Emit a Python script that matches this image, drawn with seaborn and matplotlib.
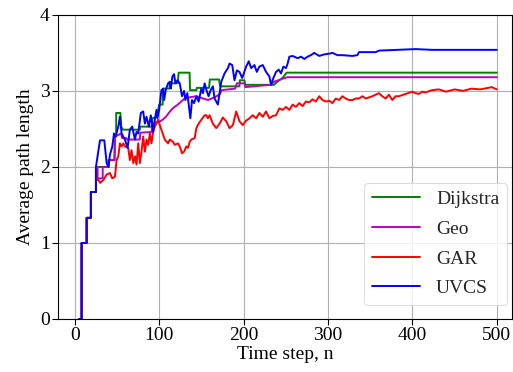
import matplotlib
matplotlib.use("Agg")
import matplotlib.pyplot as plt
import numpy as np
import pandas as pd
import seaborn as sns

# shared start: staircase from 0 up to 2
start_n = [5, 8, 8, 14, 14, 19, 19, 25, 25]
start_y = [0, 0, 1, 1, 1.33, 1.33, 1.67, 1.67, 2.0]

dijkstra_n = [40, 40, 47, 47.5, 49, 49, 54, 55, 57, 77, 77, 91, 92, 97, 100, 104,
              104.6, 112, 112.5, 122, 123, 136, 136.5, 144, 144.5, 159, 160, 171,
              172, 195, 195.5, 201, 202, 236, 240, 246, 251, 500]
dijkstra_y = [2.0, 2.09, 2.09, 2.4, 2.4, 2.71, 2.71, 2.53, 2.49, 2.49, 2.53, 2.53,
              2.64, 2.66, 2.82, 2.82, 3.03, 3.03, 3.1, 3.1, 3.24, 3.24, 3.01, 3.01,
              3.04, 3.04, 3.15, 3.15, 3.06, 3.06, 3.14, 3.14, 3.08, 3.08, 3.12, 3.17,
              3.24, 3.24]

geo_n = [27, 27, 33, 33, 40, 40, 47, 47.5, 55, 56, 61, 62, 77, 77.5, 91, 92, 98,
         101, 104, 108, 112, 116, 122, 126, 130, 138, 144, 152, 158, 168, 172, 174,
         190, 192, 201, 202, 232, 236, 246, 252, 500]
geo_y = [2.0, 1.85, 1.85, 2.0, 2.0, 2.09, 2.09, 2.4, 2.44, 2.38, 2.38, 2.36, 2.36,
         2.45, 2.46, 2.57, 2.59, 2.6, 2.62, 2.66, 2.72, 2.77, 2.82, 2.86, 2.9, 2.92,
         2.93, 2.9, 2.88, 2.93, 2.96, 3.01, 3.03, 3.1, 3.1, 3.05, 3.08, 3.12, 3.16,
         3.18, 3.18]

gar_n = [26, 28, 30, 32, 34, 37.7, 41.6, 44.4, 47.5, 49.5, 51.5, 53.4, 55.4, 57.4,
         59.3, 63.3, 65.2, 67.2, 69.2, 71.2, 73.1, 75.1, 77.1, 79, 81, 83, 84.9,
         86.9, 88.9, 90.8, 92.8, 94.8, 96.7, 98.7, 100.7, 102.6, 106.6, 110.5, 112.5,
         116.4, 118.4, 122.3, 124.3, 127, 129.4, 132.1, 134.1, 136.1, 138, 142, 144,
         146.7, 149.9, 153.8, 155.8, 157.7, 159.7, 161.7, 163.6, 167.6, 171.5, 175.4,
         179.4, 183.3, 187.3, 191.2, 195.1, 199.1, 203, 207, 210.9, 214.8, 218.7,
         222.7, 226.6, 230.5, 234.5, 238.4, 242.4, 246.3, 250.2, 254.2, 258.1, 262,
         266, 269.9, 273.8, 277.8, 281.7, 285.6, 289.6, 293.5, 297.5, 301.4, 305.3,
         309.3, 313.2, 317.1, 321.1, 325, 328.9, 332.9, 336.8, 340.7, 344.7, 352.5,
         356.5, 360.4, 364.3, 368.3, 372.2, 376.2, 380.1, 384, 391.9, 399.8, 403.7,
         407.6, 411.6, 415.5, 423.4, 431.3, 440, 450, 460, 470, 480, 490, 494, 500]
gar_y = [1.83, 1.83, 1.79, 1.81, 1.83, 1.9, 1.92, 1.85, 1.87, 2.09, 2.14, 2.31, 2.27,
         2.31, 2.27, 2.25, 2.09, 2.22, 2.05, 2.14, 2.03, 2.31, 2.05, 2.2, 2.4, 2.2,
         2.36, 2.29, 2.44, 2.31, 2.46, 2.53, 2.57, 2.62, 2.55, 2.49, 2.36, 2.31, 2.36,
         2.33, 2.29, 2.31, 2.27, 2.18, 2.2, 2.27, 2.25, 2.33, 2.36, 2.38, 2.51, 2.57,
         2.62, 2.68, 2.68, 2.64, 2.68, 2.62, 2.57, 2.51, 2.57, 2.65, 2.6, 2.51, 2.55,
         2.73, 2.6, 2.55, 2.61, 2.64, 2.68, 2.64, 2.71, 2.66, 2.73, 2.64, 2.67, 2.68,
         2.77, 2.75, 2.79, 2.75, 2.82, 2.79, 2.84, 2.8, 2.86, 2.85, 2.89, 2.86, 2.93,
         2.88, 2.86, 2.87, 2.84, 2.9, 2.88, 2.93, 2.9, 2.88, 2.88, 2.9, 2.9, 2.93, 2.9,
         2.93, 2.95, 2.97, 2.93, 2.9, 2.95, 2.88, 2.93, 2.93, 2.96, 2.99, 2.97, 2.96,
         2.99, 2.98, 3.01, 3.02, 2.99, 3.02, 3.0, 3.03, 3.02, 3.04, 3.05, 3.02]

uvcs_n = [29.8, 34.9, 37.7, 39.7, 41.6, 44.4, 46.4, 48.3, 51.5, 53.4, 55.4, 59.3,
          62.5, 65.2, 68, 71.2, 73.1, 75.1, 78.2, 81, 83, 84.9, 87.7, 90, 92.8, 94.8,
          96.7, 97.9, 99.9, 102.6, 104.6, 105.8, 107.7, 110.5, 112.5, 113.7, 115.6,
          117.6, 119.2, 121.5, 124.3, 127, 129.4, 131, 133.3, 136.9, 138.8, 141.2,
          144, 146.7, 149.9, 151.8, 153.8, 156.2, 158.5, 160.9, 163.6, 165.6, 169.5,
          173.5, 177.4, 181.4, 183.3, 186.5, 189.2, 192, 195.1, 198.3, 203, 206.1,
          208.9, 212.8, 215.6, 218.7, 222.7, 226.6, 230.5, 232.5, 235.3, 238.4, 241.6,
          244.3, 247.1, 250.2, 252.2, 254.2, 258.1, 264, 268, 271.9, 275.8, 279.7,
          283.7, 289.6, 295.5, 301.4, 305.3, 311.2, 317.1, 329, 334.8, 336.8, 356.5,
          360.4, 403.7, 423.4, 500]
uvcs_y = [2.35, 2.35, 2.05, 2.0, 2.16, 2.27, 2.44, 2.4, 2.53, 2.66, 2.44, 2.36, 2.25,
          2.49, 2.53, 2.36, 2.46, 2.44, 2.71, 2.73, 2.57, 2.66, 2.53, 2.68, 2.46, 2.62,
          2.75, 2.64, 2.75, 3.01, 3.03, 2.88, 3.01, 3.1, 3.12, 3.03, 3.19, 3.22, 3.1,
          3.14, 3.1, 2.93, 3.0, 2.88, 2.97, 2.64, 2.88, 2.84, 2.93, 2.86, 3.03, 2.97,
          3.1, 3.0, 2.93, 3.01, 3.06, 2.9, 2.82, 3.12, 3.23, 3.3, 3.36, 3.34, 3.14,
          3.27, 3.25, 3.17, 3.32, 3.39, 3.3, 3.34, 3.25, 3.32, 3.34, 3.25, 3.19, 3.08,
          3.17, 3.25, 3.28, 3.23, 3.32, 3.3, 3.36, 3.45, 3.46, 3.43, 3.45, 3.42, 3.45,
          3.47, 3.5, 3.46, 3.48, 3.49, 3.5, 3.47, 3.47, 3.46, 3.47, 3.51, 3.51, 3.53,
          3.55, 3.54, 3.54]

labels = ["Dijkstra", "Geo", "GAR", "UVCS"]
colors = ["#008000", "#bf00bf", "#ff0000", "#0000ff"]

series = {
    "Dijkstra": (dijkstra_n, dijkstra_y),
    "Geo": (geo_n, geo_y),
    "GAR": (gar_n, gar_y),
    "UVCS": (uvcs_n, uvcs_y),
}

frames = []
for name in labels:
    n, y = series[name]
    frames.append(pd.DataFrame({"n": start_n + n, "length": start_y + y, "method": name}))
df = pd.concat(frames, ignore_index=True)

sns.set_theme(style="whitegrid")
plt.rcParams["font.family"] = ["Liberation Serif", "DejaVu Serif"]

fig = plt.figure(figsize=(5.13, 3.72), dpi=100)
ax = fig.add_axes([0.113, 0.1425, 0.885, 0.8175])

sns.lineplot(data=df, x="n", y="length", hue="method", hue_order=labels,
             palette=colors, estimator=None, sort=False, linewidth=1.4, ax=ax)

ax.set_xlim(-20, 518)
ax.set_ylim(0, 4)
ax.set_xticks([0, 100, 200, 300, 400, 500])
ax.set_yticks([0, 1, 2, 3, 4])
ax.set_xlabel("Time step, n", fontsize=14, color="black", labelpad=1)
ax.set_ylabel("Average path length", fontsize=14, color="black", labelpad=4)
ax.tick_params(axis="both", labelsize=14, colors="black", length=4, width=0.8,
               direction="out", left=True, bottom=True, pad=2)
ax.grid(True, color="#b0b0b0", linewidth=0.8)
ax.set_facecolor("white")
for side in ["left", "bottom", "top", "right"]:
    ax.spines[side].set_color("black")
    ax.spines[side].set_linewidth(0.8)

leg = ax.legend(loc="lower right", bbox_to_anchor=(0.989, 0.046), fontsize=14,
                handlelength=2.5, frameon=True, borderaxespad=0, labelspacing=0.62)
leg.get_frame().set_edgecolor("#d5d5d5")
leg.get_frame().set_linewidth(0.8)

fig.savefig("out.png", dpi=100)
